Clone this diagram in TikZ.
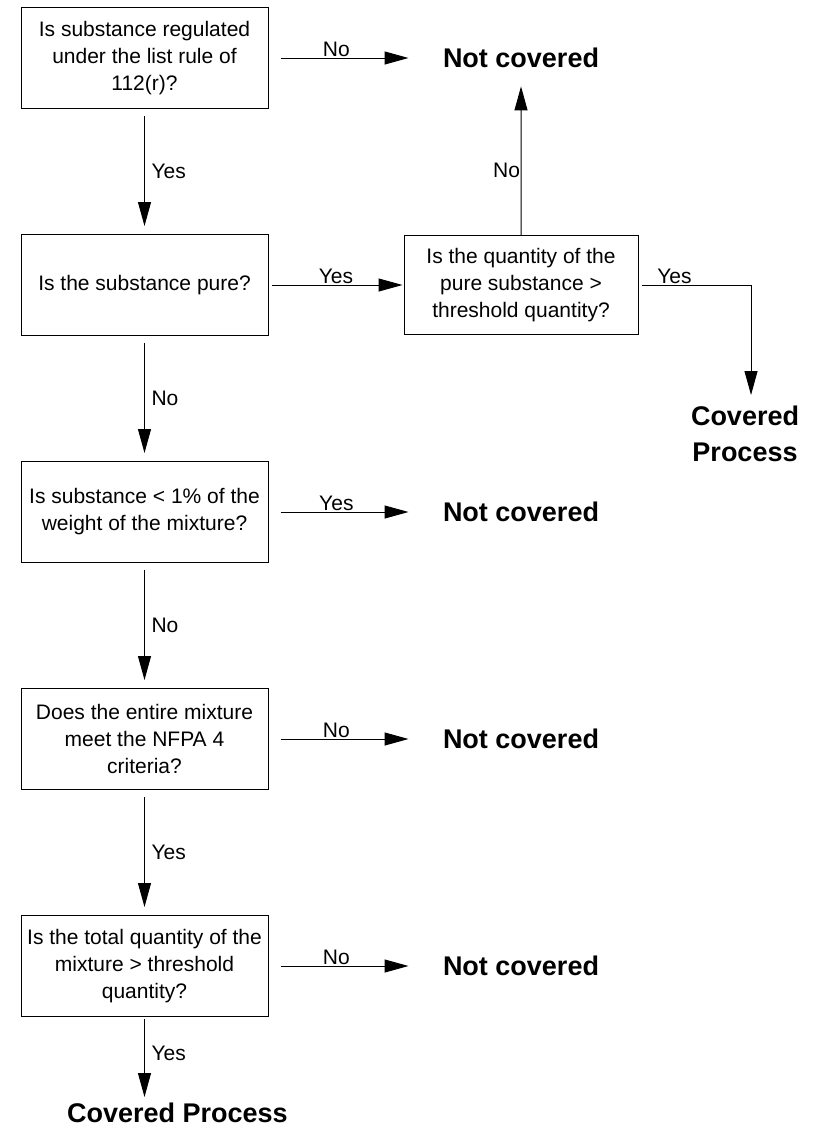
\documentclass[tikz,border=0pt]{standalone}
\usepackage{fontspec}
\setmainfont{Liberation Sans}
\usetikzlibrary{positioning}
\usetikzlibrary{arrows.meta}

\begin{document}
\begin{tikzpicture}[x=1pt, y=-1pt,
		line width=1pt,
		box/.style={draw, align=center, inner sep=4pt,
			minimum width=247pt, minimum height=101pt,
			font=\fontsize{21}{27}\selectfont},
		result/.style={inner sep=0pt, align=center,
			font=\bfseries\fontsize{27}{36}\selectfont},
		answer/.style={inner sep=0.5pt, font=\fontsize{21}{25}\selectfont},
		flow/.style={-{Triangle[length=24pt, width=13pt]}}]
		\useasboundingbox (0,0) rectangle (817,1133);

		\node [box] (regulated) at (144.5,58) {Is substance regulated\\under the list rule of\\112(r)?};
		\node [box, below=125pt of regulated] (pure) {Is the substance pure?};
		\node [box, below=125pt of pure] (percent) {Is substance < 1\% of the\\weight of the mixture?};
		\node [box, below=125pt of percent] (nfpa) {Does the entire mixture\\meet the NFPA 4\\criteria?};
		\node [box, below=125pt of nfpa] (total) {Is the total quantity of the\\mixture > threshold\\quantity?};
		\node [box, minimum width=234pt, minimum height=99pt, right=135pt of pure] (quantity) {Is the quantity of the\\pure substance >\\threshold quantity?};

		\node [result, right=174pt of regulated] (notcov1) {Not covered};
		\node [result, right=174pt of percent] (notcov2) {Not covered};
		\node [result, right=174pt of nfpa] (notcov3) {Not covered};
		\node [result, right=174pt of total] (notcov4) {Not covered};
		\node [result, below right=70pt and 52pt of quantity] (covered1) {Covered\\Process};
		\node [result, below=85pt of total, xshift=33pt] (covered2) {Covered Process};

		% down the left column
		\draw [flow, shorten <=7pt, shorten >=8pt] (regulated) -- node [answer, right=6pt] {Yes} (pure);
		\draw [flow, shorten <=7pt, shorten >=8pt] (pure) -- node [answer, right=6pt] {No} (percent);
		\draw [flow, shorten <=7pt, shorten >=8pt] (percent) -- node [answer, right=6pt] {No} (nfpa);
		\draw [flow, shorten <=7pt, shorten >=8pt] (nfpa) -- node [answer, right=6pt] {Yes} (total);
		\draw [flow, shorten <=2pt, shorten >=5pt] (total) -- node [answer, right=6pt, pos=0.43] {Yes} (total.south |- covered2.north);

		% to the right
		\draw [flow, shorten <=12pt, shorten >=34pt] (regulated.east) -- node [answer, above, pos=0.39] {No} (notcov1.west);
		\draw [flow, shorten <=12pt, shorten >=34pt] (percent.east) -- node [answer, above, pos=0.39] {Yes} (notcov2.west);
		\draw [flow, shorten <=12pt, shorten >=34pt] (nfpa.east) -- node [answer, above, pos=0.39] {No} (notcov3.west);
		\draw [flow, shorten <=12pt, shorten >=34pt] (total.east) -- node [answer, above, pos=0.39] {No} (notcov4.west);
		\draw [flow, shorten <=3pt, shorten >=1pt] (pure) -- node [answer, above] {Yes} (quantity);
		\draw [flow, shorten >=18pt] (quantity) -- node [answer, left, pos=0.39] {No} (notcov1);
		\draw [flow, shorten <=3pt, shorten >=10pt] (quantity.east) -- node [answer, above, pos=0.32] {Yes} ([xshift=6pt]quantity.east -| covered1.north) -- ([xshift=6pt]covered1.north);
\end{tikzpicture}
\end{document}
